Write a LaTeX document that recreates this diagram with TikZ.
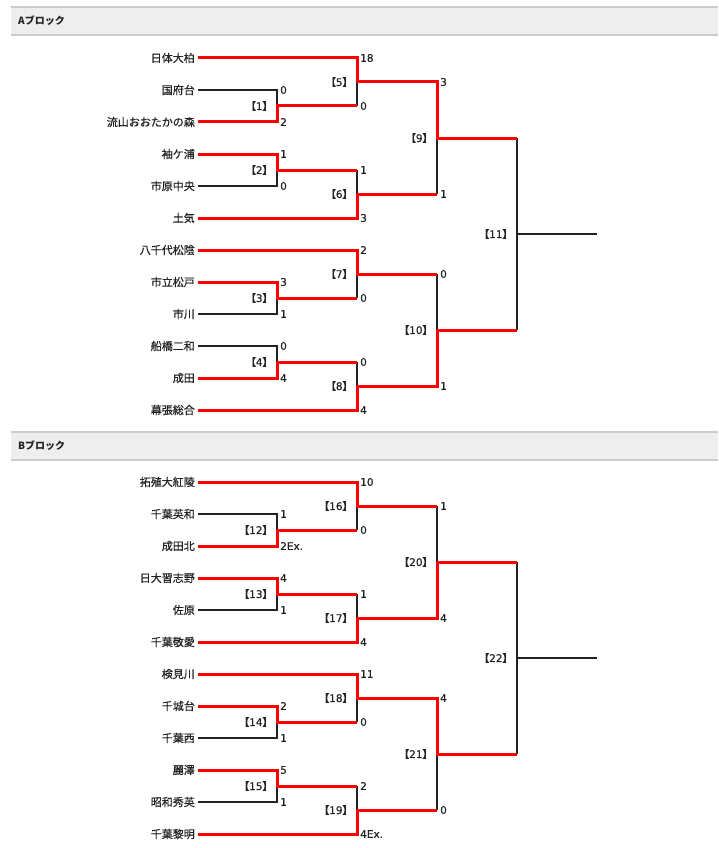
\documentclass[tikz,border=0pt]{standalone}
\usepackage{fontspec}
\setmainfont{Noto Sans CJK JP}
\newfontfamily\jp[FakeBold=0.5]{Noto Sans CJK JP}
\newfontfamily\jph{Noto Sans CJK JP}
\newfontfamily\jpp[RawFeature=+palt,FakeBold=0.5]{Noto Sans CJK JP}
\newfontfamily\numf[FakeBold=0.4]{DejaVu Sans}
\definecolor{wred}{HTML}{FF0000}
\definecolor{lblk}{HTML}{222222}
\definecolor{hdrfill}{HTML}{EEEEEE}
\definecolor{hdrline}{HTML}{CCCCCC}
\newcommand{\ml}[1]{{\jpp【}#1{\jpp】}}
\tikzset{
  team/.style={anchor=east, inner sep=0pt, text=lblk, font=\jp\fontsize{11}{11}\selectfont},
  score/.style={anchor=west, inner sep=0pt, text=lblk, font=\numf\fontsize{10.5}{10.5}\selectfont},
  lab/.style={anchor=east, inner sep=0pt, text=lblk, font=\numf\fontsize{10.5}{10.5}\selectfont},
  hdrtext/.style={anchor=west, inner sep=0pt, text=lblk, font=\jph\bfseries\fontsize{10}{10}\selectfont},
  win/.style={draw=wred, line width=3pt, line join=miter},
  lose/.style={draw=lblk, line width=2pt, line join=miter},
  hdrbar/.style={fill=hdrfill},
  hdrrule/.style={draw=hdrline, line width=1.2pt}
}
\begin{document}
\begin{tikzpicture}[x=1pt,y=-1pt]
\useasboundingbox (0,0) rectangle (718,848);
\fill[white] (0,0) rectangle (718,848);

% ================= Block A =================
\begin{scope}
\fill[hdrbar] (11,7) rectangle (718,35);
\draw[hdrrule] (11,7) -- (718,7);
\draw[hdrrule] (11,35) -- (718,35);
\node[hdrtext] (ha) at (18,21) {Aブロック};

\node[team] (a1) at (195,58) {日体大柏};
\node[team] (a2) at (195,90) {国府台};
\node[team] (a3) at (195,122) {流山おおたかの森};
\node[team] (a4) at (195,154) {袖ケ浦};
\node[team] (a5) at (195,186) {市原中央};
\node[team] (a6) at (195,218) {土気};
\node[team] (a7) at (195,250) {八千代松陰};
\node[team] (a8) at (195,282) {市立松戸};
\node[team] (a9) at (195,314) {市川};
\node[team] (a10) at (195,346) {船橋二和};
\node[team] (a11) at (195,378) {成田};
\node[team] (a12) at (195,410) {幕張総合};

\coordinate (ma1) at (277,106);
\coordinate (ma2) at (277,170);
\coordinate (ma3) at (277,298);
\coordinate (ma4) at (277,362);
\coordinate (ma5) at (357,82);
\coordinate (ma6) at (357,194);
\coordinate (ma7) at (357,274);
\coordinate (ma8) at (357,386);
\coordinate (ma9) at (437,138);
\coordinate (ma10) at (437,330);
\coordinate (ma11) at (517,234);
\coordinate (ea) at (597,234);

% losers (black)
\draw[lose] ([xshift=3pt]a2.east) -| (ma1);
\draw[lose] ([xshift=3pt]a5.east) -| (ma2);
\draw[lose] ([xshift=3pt]a9.east) -| (ma3);
\draw[lose] ([xshift=3pt]a10.east) -| (ma4);
\draw[lose] (ma5) -- (ma1 -| ma5);
\draw[lose] (ma6) -- (ma2 -| ma6);
\draw[lose] (ma7) -- (ma3 -| ma7);
\draw[lose] (ma8) -- (ma4 -| ma8);
\draw[lose] (ma9) -- (ma6 -| ma9);
\draw[lose] (ma10) -- (ma7 -| ma10);
\draw[lose] (ma9 -| ma11) -- (ma10 -| ma11);
\draw[lose] (ma11) -- (ea);

% winners (red)
\draw[win] ([xshift=3pt]a1.east) -| (ma5) -- (ma5 -| ma9) -- (ma9) -- (ma9 -| ma11);
\draw[win] ([xshift=3pt]a3.east) -| (ma1) -- (ma1 -| ma5);
\draw[win] ([xshift=3pt]a4.east) -| (ma2) -- (ma2 -| ma6);
\draw[win] ([xshift=3pt]a6.east) -| (ma6) -- (ma6 -| ma9);
\draw[win] ([xshift=3pt]a7.east) -| (ma7) -- (ma7 -| ma10);
\draw[win] ([xshift=3pt]a8.east) -| (ma3) -- (ma3 -| ma7);
\draw[win] ([xshift=3pt]a11.east) -| (ma4) -- (ma4 -| ma8);
\draw[win] ([xshift=3pt]a12.east) -| (ma8) -- (ma8 -| ma10) -- (ma10) -- (ma10 -| ma11);

% match labels
\node[lab] (la1) at ([xshift=-9pt]ma1) {\ml{1}};
\node[lab] (la2) at ([xshift=-9pt]ma2) {\ml{2}};
\node[lab] (la3) at ([xshift=-9pt]ma3) {\ml{3}};
\node[lab] (la4) at ([xshift=-9pt]ma4) {\ml{4}};
\node[lab] (la5) at ([xshift=-9pt]ma5) {\ml{5}};
\node[lab] (la6) at ([xshift=-9pt]ma6) {\ml{6}};
\node[lab] (la7) at ([xshift=-9pt]ma7) {\ml{7}};
\node[lab] (la8) at ([xshift=-9pt]ma8) {\ml{8}};
\node[lab] (la9) at ([xshift=-9pt]ma9) {\ml{9}};
\node[lab] (la10) at ([xshift=-9pt]ma10) {\ml{10}};
\node[lab] (la11) at ([xshift=-9pt]ma11) {\ml{11}};

% scores
\node[score] (sa1) at (280,90) {0};
\node[score] (sa2) at (280,122) {2};
\node[score] (sa3) at (280,154) {1};
\node[score] (sa4) at (280,186) {0};
\node[score] (sa5) at (280,282) {3};
\node[score] (sa6) at (280,314) {1};
\node[score] (sa7) at (280,346) {0};
\node[score] (sa8) at (280,378) {4};
\node[score] (sa9) at (360,58) {18};
\node[score] (sa10) at (360,106) {0};
\node[score] (sa11) at (360,170) {1};
\node[score] (sa12) at (360,218) {3};
\node[score] (sa13) at (360,250) {2};
\node[score] (sa14) at (360,298) {0};
\node[score] (sa15) at (360,362) {0};
\node[score] (sa16) at (360,410) {4};
\node[score] (sa17) at (440,82) {3};
\node[score] (sa18) at (440,194) {1};
\node[score] (sa19) at (440,274) {0};
\node[score] (sa20) at (440,386) {1};
\end{scope}

% ================= Block B =================
\begin{scope}[shift={(0,424)}]
\fill[hdrbar] (11,8) rectangle (718,36);
\draw[hdrrule] (11,8) -- (718,8);
\draw[hdrrule] (11,36) -- (718,36);
\node[hdrtext] (hb) at (18,22) {Bブロック};

\node[team] (b1) at (195,58) {拓殖大紅陵};
\node[team] (b2) at (195,90) {千葉英和};
\node[team] (b3) at (195,122) {成田北};
\node[team] (b4) at (195,154) {日大習志野};
\node[team] (b5) at (195,186) {佐原};
\node[team] (b6) at (195,218) {千葉敬愛};
\node[team] (b7) at (195,250) {検見川};
\node[team] (b8) at (195,282) {千城台};
\node[team] (b9) at (195,314) {千葉西};
\node[team] (b10) at (195,346) {麗澤};
\node[team] (b11) at (195,378) {昭和秀英};
\node[team] (b12) at (195,410) {千葉黎明};

\coordinate (mb12) at (277,106);
\coordinate (mb13) at (277,170);
\coordinate (mb14) at (277,298);
\coordinate (mb15) at (277,362);
\coordinate (mb16) at (357,82);
\coordinate (mb17) at (357,194);
\coordinate (mb18) at (357,274);
\coordinate (mb19) at (357,386);
\coordinate (mb20) at (437,138);
\coordinate (mb21) at (437,330);
\coordinate (mb22) at (517,234);
\coordinate (eb) at (597,234);

% losers (black)
\draw[lose] ([xshift=3pt]b2.east) -| (mb12);
\draw[lose] ([xshift=3pt]b5.east) -| (mb13);
\draw[lose] ([xshift=3pt]b9.east) -| (mb14);
\draw[lose] ([xshift=3pt]b11.east) -| (mb15);
\draw[lose] (mb16) -- (mb12 -| mb16);
\draw[lose] (mb17) -- (mb13 -| mb17);
\draw[lose] (mb18) -- (mb14 -| mb18);
\draw[lose] (mb19) -- (mb15 -| mb19);
\draw[lose] (mb20) -- (mb16 -| mb20);
\draw[lose] (mb21) -- (mb19 -| mb21);
\draw[lose] (mb20 -| mb22) -- (mb21 -| mb22);
\draw[lose] (mb22) -- (eb);

% winners (red)
\draw[win] ([xshift=3pt]b1.east) -| (mb16) -- (mb16 -| mb20);
\draw[win] ([xshift=3pt]b3.east) -| (mb12) -- (mb12 -| mb16);
\draw[win] ([xshift=3pt]b4.east) -| (mb13) -- (mb13 -| mb17);
\draw[win] ([xshift=3pt]b6.east) -| (mb17) -- (mb17 -| mb20) -- (mb20) -- (mb20 -| mb22);
\draw[win] ([xshift=3pt]b7.east) -| (mb18) -- (mb18 -| mb21) -- (mb21) -- (mb21 -| mb22);
\draw[win] ([xshift=3pt]b8.east) -| (mb14) -- (mb14 -| mb18);
\draw[win] ([xshift=3pt]b10.east) -| (mb15) -- (mb15 -| mb19);
\draw[win] ([xshift=3pt]b12.east) -| (mb19) -- (mb19 -| mb21);

% match labels
\node[lab] (lb12) at ([xshift=-9pt]mb12) {\ml{12}};
\node[lab] (lb13) at ([xshift=-9pt]mb13) {\ml{13}};
\node[lab] (lb14) at ([xshift=-9pt]mb14) {\ml{14}};
\node[lab] (lb15) at ([xshift=-9pt]mb15) {\ml{15}};
\node[lab] (lb16) at ([xshift=-9pt]mb16) {\ml{16}};
\node[lab] (lb17) at ([xshift=-9pt]mb17) {\ml{17}};
\node[lab] (lb18) at ([xshift=-9pt]mb18) {\ml{18}};
\node[lab] (lb19) at ([xshift=-9pt]mb19) {\ml{19}};
\node[lab] (lb20) at ([xshift=-9pt]mb20) {\ml{20}};
\node[lab] (lb21) at ([xshift=-9pt]mb21) {\ml{21}};
\node[lab] (lb22) at ([xshift=-9pt]mb22) {\ml{22}};

% scores
\node[score] (sb1) at (280,90) {1};
\node[score] (sb2) at (280,122) {2Ex.};
\node[score] (sb3) at (280,154) {4};
\node[score] (sb4) at (280,186) {1};
\node[score] (sb5) at (280,282) {2};
\node[score] (sb6) at (280,314) {1};
\node[score] (sb7) at (280,346) {5};
\node[score] (sb8) at (280,378) {1};
\node[score] (sb9) at (360,58) {10};
\node[score] (sb10) at (360,106) {0};
\node[score] (sb11) at (360,170) {1};
\node[score] (sb12) at (360,218) {4};
\node[score] (sb13) at (360,250) {11};
\node[score] (sb14) at (360,298) {0};
\node[score] (sb15) at (360,362) {2};
\node[score] (sb16) at (360,410) {4Ex.};
\node[score] (sb17) at (440,82) {1};
\node[score] (sb18) at (440,194) {4};
\node[score] (sb19) at (440,274) {4};
\node[score] (sb20) at (440,386) {0};
\end{scope}
\end{tikzpicture}
\end{document}
